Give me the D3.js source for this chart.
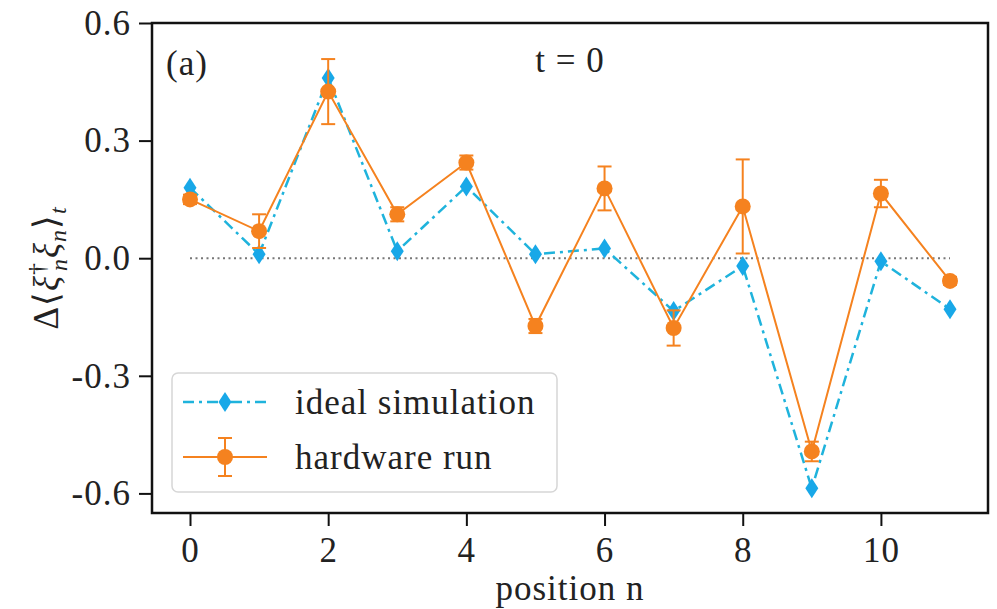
<!DOCTYPE html>
<html>
<head>
<meta charset="utf-8">
<script src="https://cdn.jsdelivr.net/npm/d3@7"></script>
<style>
  body { margin: 0; background: #fff; }
  text { font-family: "Liberation Serif", "Times New Roman", serif; fill: #222; letter-spacing: 1px; }
</style>
</head>
<body>
<svg id="chart" width="997" height="609"></svg>
<script>
// data
var positions = [0, 1, 2, 3, 4, 5, 6, 7, 8, 9, 10, 11];
var idealValues = [0.18, 0.01, 0.46, 0.018, 0.183, 0.01, 0.025, -0.135, -0.02, -0.587, -0.008, -0.13];
var hardwareValues = [0.15, 0.069, 0.425, 0.112, 0.244, -0.173, 0.178, -0.178, 0.132, -0.493, 0.165, -0.058];
var hardwareErrors = [0.012, 0.043, 0.083, 0.018, 0.018, 0.018, 0.056, 0.045, 0.12, 0.025, 0.035, 0.01];
var xTicks = [0, 2, 4, 6, 8, 10];
var yTicks = [0.6, 0.3, 0.0, -0.3, -0.6];

var blueLine = '#1fb3dc', blueMark = '#18a8e8', orange = '#f5821f';

var margin = { top: 23, right: 9, bottom: 96, left: 152 },
    width = 997 - margin.left - margin.right,
    height = 609 - margin.top - margin.bottom;

var svg = d3.select('#chart');
var g = svg.append('g').attr('transform', 'translate(' + margin.left + ',' + margin.top + ')');

var x = d3.scaleLinear().domain([-0.55, 11.55]).range([0, width]);
var y = d3.scaleLinear().domain([-0.65, 0.6]).range([height, 0]);

// axes
var xAxis = g.append('g')
    .attr('transform', 'translate(0,' + height + ')')
    .call(d3.axisBottom(x).tickValues(xTicks).tickSize(13).tickPadding(10).tickFormat(d3.format('d')));
var yAxis = g.append('g')
    .call(d3.axisLeft(y).tickValues(yTicks).tickSize(13).tickPadding(8)
        .tickFormat(function(d) { return d3.format('.1f')(d).replace('−', '-'); }));

[xAxis, yAxis].forEach(function(a) {
    a.select('.domain').remove();
    a.selectAll('line').attr('stroke', '#111').attr('stroke-width', 2);
    a.selectAll('text').style('font-size', '35px').attr('fill', '#222')
        .style('font-family', '"Liberation Serif", serif');
});
xAxis.selectAll('text').attr('dy', '0.75em');

// zero line
g.append('line')
    .attr('x1', x(0)).attr('x2', x(11))
    .attr('y1', y(0)).attr('y2', y(0))
    .attr('stroke', '#777').attr('stroke-width', 2).attr('stroke-dasharray', '2,3.5');

// ideal simulation
var line = d3.line().x(function(d, i) { return x(positions[i]); }).y(function(d) { return y(d); });

g.append('path').datum(idealValues)
    .attr('d', line)
    .attr('fill', 'none').attr('stroke', blueLine).attr('stroke-width', 2.5)
    .attr('stroke-dasharray', '11,5,3,5');

function diamond(cx, cy) {
    return 'M' + cx + ',' + (cy - 10) + 'L' + (cx + 6.5) + ',' + cy + 'L' + cx + ',' + (cy + 10) + 'L' + (cx - 6.5) + ',' + cy + 'Z';
}

g.selectAll('path.ideal').data(idealValues).enter().append('path')
    .attr('class', 'ideal')
    .attr('d', function(d, i) { return diamond(x(positions[i]), y(d)); })
    .attr('fill', blueMark);

// hardware run
g.append('path').datum(hardwareValues)
    .attr('d', line)
    .attr('fill', 'none').attr('stroke', orange).attr('stroke-width', 2);

var err = g.selectAll('g.err').data(hardwareValues).enter().append('g').attr('class', 'err');
err.append('line')
    .attr('x1', function(d, i) { return x(positions[i]); })
    .attr('x2', function(d, i) { return x(positions[i]); })
    .attr('y1', function(d, i) { return y(d + hardwareErrors[i]); })
    .attr('y2', function(d, i) { return y(d - hardwareErrors[i]); })
    .attr('stroke', orange).attr('stroke-width', 2);
[1, -1].forEach(function(s) {
    err.append('line')
        .attr('x1', function(d, i) { return x(positions[i]) - 7; })
        .attr('x2', function(d, i) { return x(positions[i]) + 7; })
        .attr('y1', function(d, i) { return y(d + s * hardwareErrors[i]); })
        .attr('y2', function(d, i) { return y(d + s * hardwareErrors[i]); })
        .attr('stroke', orange).attr('stroke-width', 2);
});
g.selectAll('circle.hw').data(hardwareValues).enter().append('circle')
    .attr('class', 'hw')
    .attr('cx', function(d, i) { return x(positions[i]); })
    .attr('cy', function(d) { return y(d); })
    .attr('r', 8)
    .attr('fill', orange);

// frame
g.append('rect').attr('width', width).attr('height', height)
    .attr('fill', 'none').attr('stroke', '#111').attr('stroke-width', 2.5);

// annotations
g.append('text').attr('x', 14).attr('y', 52).style('font-size', '35px').text('(a)');
g.append('text').attr('x', width / 2).attr('y', 49).attr('text-anchor', 'middle')
    .style('font-size', '35px').text('t = 0');

// axis labels
svg.append('text')
    .attr('x', margin.left + width / 2).attr('y', 600)
    .attr('text-anchor', 'middle').style('font-size', '35px')
    .text('position n');

var yl = svg.append('text')
    .attr('transform', 'translate(58,' + (margin.top + height / 2) + ') rotate(-90)')
    .attr('text-anchor', 'middle').style('font-size', '35px');
yl.append('tspan').text('Δ⟨');
yl.append('tspan').style('font-style', 'italic').text('ξ');
yl.append('tspan').attr('dy', -13).style('font-size', '24px').text('†');
yl.append('tspan').attr('dx', -9).attr('dy', 22).style('font-size', '24px').style('font-style', 'italic').text('n');
yl.append('tspan').attr('dy', -9).style('font-style', 'italic').text('ξ');
yl.append('tspan').attr('dy', 8).style('font-size', '24px').style('font-style', 'italic').text('n');
yl.append('tspan').attr('dy', -8).text('⟩');
yl.append('tspan').attr('dy', 8).style('font-size', '24px').style('font-style', 'italic').text('t');

// legend
var lg = svg.append('g').attr('transform', 'translate(172,373)');
lg.append('rect').attr('width', 385).attr('height', 119).attr('rx', 6)
    .attr('fill', '#fff').attr('fill-opacity', 0.85)
    .attr('stroke', '#d6d6d6').attr('stroke-width', 1.5);

lg.append('line').attr('x1', 11).attr('x2', 95).attr('y1', 29).attr('y2', 29)
    .attr('stroke', blueLine).attr('stroke-width', 2.5).attr('stroke-dasharray', '11,5,3,5');
lg.append('path').attr('d', diamond(53, 29)).attr('fill', blueMark);
lg.append('text').attr('x', 123).attr('y', 41).style('font-size', '35px').text('ideal simulation');

lg.append('line').attr('x1', 11).attr('x2', 95).attr('y1', 84).attr('y2', 84)
    .attr('stroke', orange).attr('stroke-width', 2);
lg.append('line').attr('x1', 53).attr('x2', 53).attr('y1', 65).attr('y2', 103)
    .attr('stroke', orange).attr('stroke-width', 2);
lg.append('line').attr('x1', 46).attr('x2', 60).attr('y1', 65).attr('y2', 65)
    .attr('stroke', orange).attr('stroke-width', 2);
lg.append('line').attr('x1', 46).attr('x2', 60).attr('y1', 103).attr('y2', 103)
    .attr('stroke', orange).attr('stroke-width', 2);
lg.append('circle').attr('cx', 53).attr('cy', 84).attr('r', 8).attr('fill', orange);
lg.append('text').attr('x', 123).attr('y', 96).style('font-size', '35px').text('hardware run');
</script>
</body>
</html>
